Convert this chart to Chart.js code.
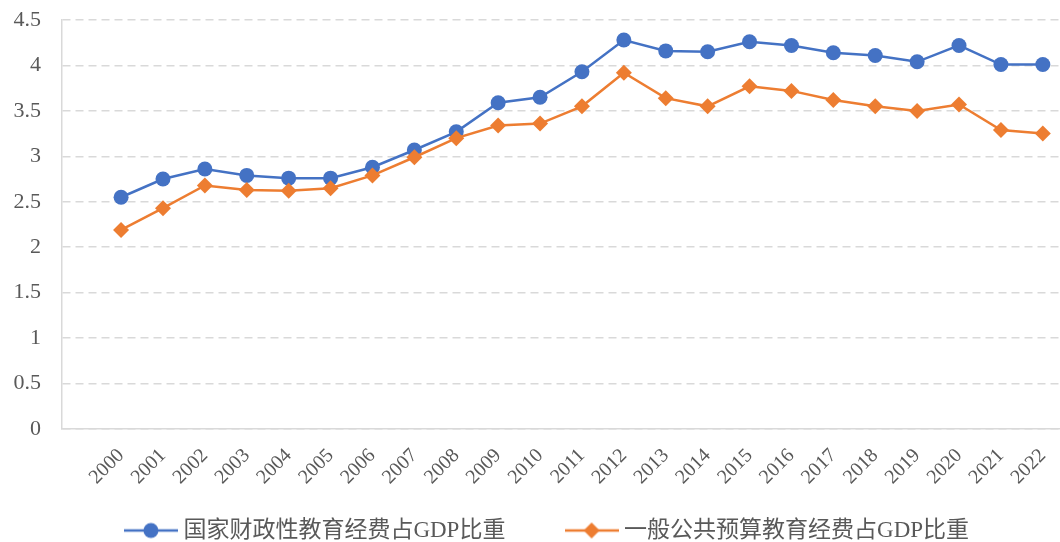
<!DOCTYPE html>
<html>
<head>
<meta charset="utf-8">
<script src="https://cdn.jsdelivr.net/npm/chart.js@4.4.1/dist/chart.umd.min.js"></script>
<style>
  html, body { margin: 0; padding: 0; background: #fff; }
</style>
</head>
<body>
<canvas id="chart" width="1060" height="542"></canvas>
<script>
// data
const years = [2000, 2001, 2002, 2003, 2004, 2005, 2006, 2007, 2008, 2009, 2010, 2011,
               2012, 2013, 2014, 2015, 2016, 2017, 2018, 2019, 2020, 2021, 2022];
const fiscalEdu = [2.55, 2.75, 2.86, 2.79, 2.76, 2.76, 2.88, 3.07, 3.27, 3.59, 3.65, 3.93,
                   4.28, 4.16, 4.15, 4.26, 4.22, 4.14, 4.11, 4.04, 4.22, 4.01, 4.01];
const budgetEdu = [2.19, 2.43, 2.68, 2.63, 2.62, 2.65, 2.79, 2.99, 3.20, 3.34, 3.36, 3.55,
                   3.92, 3.64, 3.55, 3.77, 3.72, 3.62, 3.55, 3.50, 3.57, 3.29, 3.25];
const seriesNames = ['国家财政性教育经费占GDP比重', '一般公共预算教育经费占GDP比重'];
const seriesColors = ['#4472C4', '#ED7D31'];
const seriesMarkers = ['circle', 'rectRot'];

const serif = '"Liberation Serif", "Times New Roman", "Noto Sans CJK SC", serif';

// small line+marker picture for each legend entry
function legendIcon(color, marker) {
  let c = document.createElement('canvas');
  c.width = 54;
  c.height = 18;
  let g = c.getContext('2d');
  g.strokeStyle = color;
  g.lineWidth = 2.5;
  g.beginPath();
  g.moveTo(0, 9);
  g.lineTo(54, 9);
  g.stroke();
  g.fillStyle = color;
  g.beginPath();
  if (marker === 'circle') {
    g.arc(27, 9, 7.5, 0, Math.PI * 2);
  } else {
    g.moveTo(27, 1); g.lineTo(35, 9); g.lineTo(27, 17); g.lineTo(19, 9); g.closePath();
  }
  g.fill();
  return c;
}

// spacing after each legend entry (invisible)
const legendGaps = ['\u2003\u2003\u2009\u2009', '\u2003'];

let ctx = document.getElementById('chart');

let myChart = new Chart(ctx, {
  type: 'line',
  data: {
    labels: years,
    datasets: [{
      label: seriesNames[0],
      data: fiscalEdu,
      borderColor: seriesColors[0],
      backgroundColor: seriesColors[0],
      borderWidth: 2.5,
      pointStyle: seriesMarkers[0],
      pointRadius: 7.5,
      pointBorderWidth: 0,
      tension: 0,
      order: 2
    }, {
      label: seriesNames[1],
      data: budgetEdu,
      borderColor: seriesColors[1],
      backgroundColor: seriesColors[1],
      borderWidth: 2.5,
      pointStyle: seriesMarkers[1],
      pointRadius: 8,
      pointBorderWidth: 0,
      tension: 0,
      order: 1
    }]
  },
  options: {
    responsive: false,
    animation: false,
    events: [],
    layout: { autoPadding: false, padding: { top: 20, right: 0, bottom: 0, left: 0 } },
    scales: {
      x: {
        type: 'linear',
        min: 1998.59,
        max: 2022.41,
        afterBuildTicks: function(scale) {
          scale.ticks = years.map(y => ({ value: y }));
        },
        afterFit: function(scale) {
          scale.height = 80;
          scale.paddingLeft = 0;
          scale.paddingRight = 0;
        },
        grid: { display: false, drawTicks: false },
        border: { display: true, color: '#d9d9d9', width: 1.5 },
        ticks: {
          callback: v => String(v),
          minRotation: 45,
          maxRotation: 45,
          autoSkip: false,
          padding: 15,
          color: '#595959',
          font: { family: serif, size: 20 }
        }
      },
      y: {
        min: 0,
        max: 4.5,
        afterFit: function(scale) {
          scale.width = 62;
          scale.paddingTop = 0;
          scale.paddingBottom = 0;
        },
        grid: { color: '#d9d9d9', lineWidth: 1.5, drawTicks: false },
        border: { display: true, color: '#d9d9d9', width: 1.5, dash: [8, 5] },
        ticks: {
          stepSize: 0.5,
          callback: v => String(v),
          padding: 21,
          color: '#595959',
          font: { family: serif, size: 22 }
        }
      }
    },
    plugins: {
      tooltip: { enabled: false },
      legend: {
        position: 'bottom',
        fullSize: false,
        maxHeight: 33,
        labels: {
          usePointStyle: true,
          pointStyleWidth: 42,
          padding: 10,
          color: '#595959',
          font: { family: serif, size: 23 },
          generateLabels: function(chart) {
            return chart.data.datasets.map((ds, i) => ({
              text: ds.label + legendGaps[i],
              pointStyle: legendIcon(seriesColors[i], seriesMarkers[i]),
              fillStyle: seriesColors[i],
              strokeStyle: seriesColors[i],
              lineWidth: 0,
              fontColor: '#595959',
              datasetIndex: i
            }));
          }
        }
      }
    }
  }
});
</script>
</body>
</html>
